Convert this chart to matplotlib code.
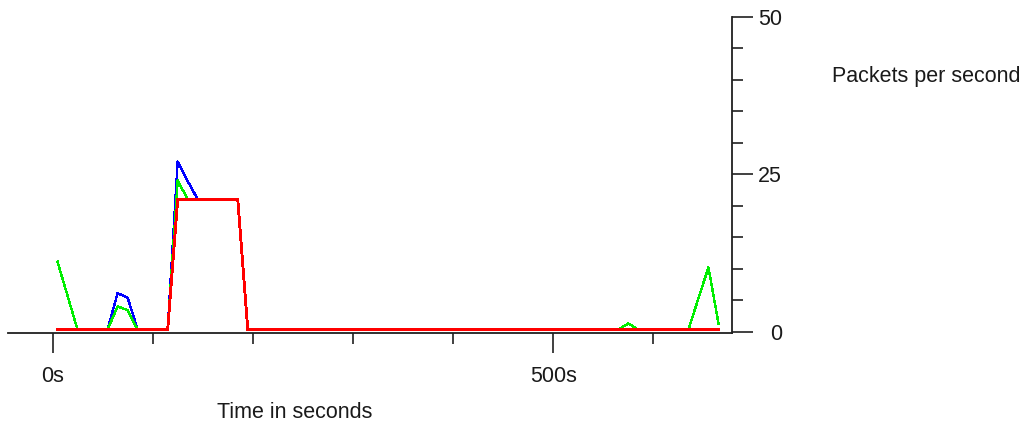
import matplotlib
matplotlib.use('Agg')
import matplotlib.pyplot as plt
import matplotlib.transforms as mtransforms

# sample times (s) and packets per second for the three series
times = [5, 15, 25, 35, 45, 55, 65, 75, 85, 95,
         105, 115, 125, 135, 145, 155, 165, 175, 185, 195,
         205, 215, 225, 235, 245, 255, 265, 275, 285, 295,
         305, 315, 325, 335, 345, 355, 365, 375, 385, 395,
         405, 415, 425, 435, 445, 455, 465, 475, 485, 495,
         505, 515, 525, 535, 545, 555, 565, 575, 585, 595,
         605, 615, 625, 635, 645, 655, 665]

blue = [0, 0, 0, 0, 0, 0, 5.8, 5.1, 0, 0,
        0, 0, 26.7, 23.6, 20.7, 20.7, 20.7, 20.7, 20.7, 0,
        0, 0, 0, 0, 0, 0, 0, 0, 0, 0,
        0, 0, 0, 0, 0, 0, 0, 0, 0, 0,
        0, 0, 0, 0, 0, 0, 0, 0, 0, 0,
        0, 0, 0, 0, 0, 0, 0, 0, 0, 0,
        0, 0, 0, 0, 0, 0, 0]

green = [10.8, 5.4, 0, 0, 0, 0, 3.7, 3.1, 0, 0,
         0, 0, 23.7, 20.7, 20.7, 20.7, 20.7, 20.7, 20.7, 0,
         0, 0, 0, 0, 0, 0, 0, 0, 0, 0,
         0, 0, 0, 0, 0, 0, 0, 0, 0, 0,
         0, 0, 0, 0, 0, 0, 0, 0, 0, 0,
         0, 0, 0, 0, 0, 0, 0, 1.0, 0, 0,
         0, 0, 0, 0, 5.0, 9.9, 1.0]

red = [0, 0, 0, 0, 0, 0, 0, 0, 0, 0,
       0, 0, 20.7, 20.7, 20.7, 20.7, 20.7, 20.7, 20.7, 0,
       0, 0, 0, 0, 0, 0, 0, 0, 0, 0,
       0, 0, 0, 0, 0, 0, 0, 0, 0, 0,
       0, 0, 0, 0, 0, 0, 0, 0, 0, 0,
       0, 0, 0, 0, 0, 0, 0, 0, 0, 0,
       0, 0, 0, 0, 0, 0, 0]

x_major = [0, 500]
x_major_labels = ['0s', '500s']
x_minor = [100, 200, 300, 400, 600]
y_major = [0, 25, 50]
y_minor = [5, 10, 15, 20, 30, 35, 40, 45]

plt.rcParams['font.family'] = ['Liberation Sans', 'DejaVu Sans']
fsize = 15.5
axis_col = '#202020'

fig = plt.figure(figsize=(10.27, 4.21), dpi=100)
ax = fig.add_axes([0.00808, 0.2083, 0.70438, 0.7516])

# lines sit a couple of pixels above the zero tick in the original
shift = mtransforms.ScaledTranslation(0, 2 / 100, fig.dpi_scale_trans)
trans = ax.transData + shift

ax.plot(times, blue, color='#0000ff', lw=1.0, transform=trans, antialiased=False)
ax.plot(times, green, color='#00ee00', lw=1.0, transform=trans, antialiased=False)
ax.plot(times, red, color='#ff0000', lw=1.3, transform=trans, antialiased=False)

ax.set_xlim(-44.14, 678.2)
ax.set_ylim(-0.254, 50)

for side in ['top', 'left']:
    ax.spines[side].set_visible(False)
for side in ['bottom', 'right']:
    ax.spines[side].set_color(axis_col)
    ax.spines[side].set_linewidth(1.3)

ax.yaxis.tick_right()
ax.set_xticks(x_major, x_major_labels)
ax.set_xticks(x_minor, minor=True)
ax.set_yticks(y_major, [str(v) for v in y_major])
ax.set_yticks(y_minor, minor=True)

ax.tick_params(axis='x', which='major', length=14.6, width=1.2, color=axis_col,
               pad=9, labelsize=fsize, labelcolor='#1a1a1a')
ax.tick_params(axis='x', which='minor', length=7.9, width=1.2, color=axis_col)
ax.tick_params(axis='y', which='major', length=14.8, width=1.2, color=axis_col,
               pad=21.4, labelsize=fsize, labelcolor='#1a1a1a')
ax.tick_params(axis='y', which='minor', length=7.9, width=1.2, color=axis_col)
plt.setp(ax.get_yticklabels(), ha='right')

fig.text(295 / 1027, (421 - 418) / 421, 'Time in seconds', ha='center',
         va='baseline', fontsize=fsize, color='#1a1a1a')
fig.text(832 / 1027, (421 - 82) / 421, 'Packets per second', ha='left',
         va='baseline', fontsize=fsize, color='#1a1a1a')

fig.savefig('out.png', dpi=100)
